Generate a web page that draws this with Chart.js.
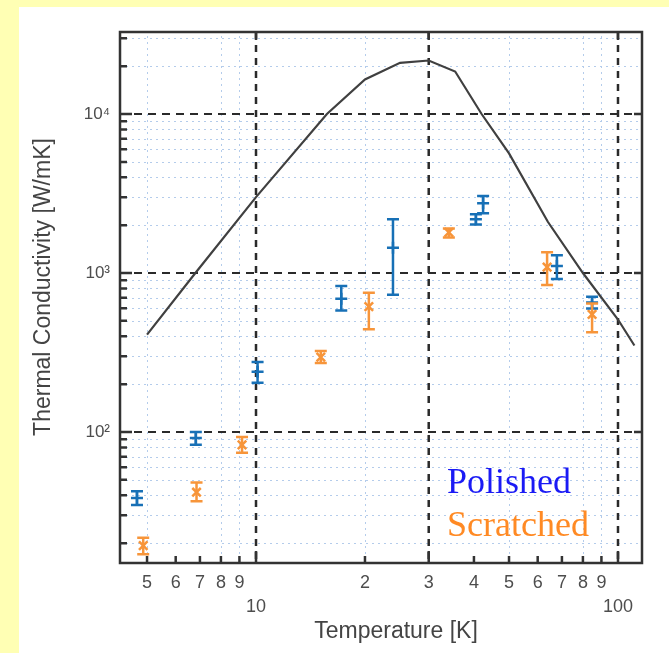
<!DOCTYPE html>
<html>
<head>
<meta charset="utf-8">
<title>Thermal conductivity vs temperature</title>
<script src="https://cdn.jsdelivr.net/npm/chart.js@4.4.0/dist/chart.umd.min.js"></script>
<style>
  html, body { margin: 0; padding: 0; }
  body { width: 669px; height: 653px; background: #ffffb4; position: relative; overflow: hidden; }
  #panel { position: absolute; left: 19px; top: 7px; right: 0; bottom: 0; background: #fff; }
  #chart { position: absolute; left: 0; top: 0; }
</style>
</head>
<body>
<div id="panel"></div>
<canvas id="chart" width="669" height="653"></canvas>
<script>
// ----- data -----
// theoretical curve
const curveT = [5.0, 6.8, 10, 15.7, 20, 25, 30, 35.5, 42, 50, 64, 80, 100, 111];
const curveK = [410, 1000, 3000, 10000, 16500, 21000, 21700, 18500, 10000, 5650, 2100, 1000, 510, 350];

// polished sample (value, lower, upper)
const polT  = [4.69, 6.82, 10.1, 17.2, 23.9, 40.5, 42.4, 67.8, 84.8];
const polK  = [38.4, 91.8, 239, 690, 1443, 2180, 2750, 1105, 652];
const polLo = [34.7, 83, 204, 581, 730, 2020, 2380, 918, 598];
const polHi = [42.4, 100, 276, 830, 2180, 2340, 3050, 1293, 710];

// scratched sample (value, lower, upper)
const scrT  = [4.88, 6.85, 9.15, 15.1, 20.5, 34.1, 63.7, 84.8];
const scrK  = [19.3, 41.8, 83, 296, 615, 1800, 1090, 549];
const scrLo = [17.0, 36.7, 74, 272, 443, 1670, 842, 424];
const scrHi = [21.6, 48.2, 93, 323, 752, 1905, 1350, 642];

// axes
const xTicks = [5, 6, 7, 8, 9, 10, 20, 30, 40, 50, 60, 70, 80, 90, 100];
const xTickLabels = ['5', '6', '7', '8', '9', ['', '10'], '2', '3', '4', '5', '6', '7', '8', '9', ['', '100']];
const yTicks = [100, 1000, 10000];
const yTickLabels = ['10\u00B2', '10\u00B3', '10\u2074'];
const xMajorGrid = [10, 30, 100];
const xMinorGrid = [5, 8, 9, 20, 50, 80, 90];
const yMajorGrid = [100, 1000, 10000];
const yMinorGrid = [20, 30, 40, 50, 60, 70, 80, 90, 200, 300, 400, 500, 600, 700, 800, 900,
                    2000, 3000, 4000, 5000, 6000, 7000, 8000, 9000, 20000, 30000];

const BLUE = '#1770b6';
const ORANGE = '#f7953a';
const SANS = '"Liberation Sans", Arial, "DejaVu Sans", sans-serif';

function toPoints(xs, ys) {
    return xs.map((x, i) => ({ x: x, y: ys[i] }));
}

function errorBars(chart, dsIndex, lo, hi, color) {
    const ctx = chart.ctx;
    const y = chart.scales.y;
    const meta = chart.getDatasetMeta(dsIndex);
    ctx.save();
    ctx.strokeStyle = color;
    ctx.lineWidth = 2.5;
    meta.data.forEach((pt, i) => {
        const y1 = y.getPixelForValue(lo[i]);
        const y2 = y.getPixelForValue(hi[i]);
        ctx.beginPath();
        ctx.moveTo(pt.x, y1); ctx.lineTo(pt.x, y2);
        ctx.moveTo(pt.x - 6, y1); ctx.lineTo(pt.x + 6, y1);
        ctx.moveTo(pt.x - 6, y2); ctx.lineTo(pt.x + 6, y2);
        ctx.stroke();
    });
    ctx.restore();
}

const decor = {
    id: 'decor',
    beforeDatasetsDraw(chart) {
        const { ctx, chartArea: a, scales: { x, y } } = chart;
        ctx.save();
        // dotted minor grid
        ctx.strokeStyle = '#b4cceb';
        ctx.lineWidth = 1;
        ctx.setLineDash([2, 4]);
        ctx.beginPath();
        yMinorGrid.forEach(v => { const p = Math.round(y.getPixelForValue(v)) + 0.5; ctx.moveTo(a.left + 6, p); ctx.lineTo(a.right - 4, p); });
        xMinorGrid.forEach(v => { const p = Math.round(x.getPixelForValue(v)) + 0.5; ctx.moveTo(p, a.top + 4); ctx.lineTo(p, a.bottom - 4); });
        ctx.stroke();
        // dashed major grid
        ctx.strokeStyle = '#2a2a2a';
        ctx.lineWidth = 2;
        ctx.setLineDash([8, 6]);
        ctx.beginPath();
        yMajorGrid.forEach(v => { const p = y.getPixelForValue(v); ctx.moveTo(a.left, p); ctx.lineTo(a.right, p); });
        ctx.stroke();
        ctx.setLineDash([7, 6]);
        ctx.lineWidth = 2.5;
        ctx.beginPath();
        xMajorGrid.forEach(v => { const p = x.getPixelForValue(v); ctx.moveTo(p, a.top); ctx.lineTo(p, a.bottom); });
        ctx.stroke();
        ctx.restore();
    },
    afterDatasetsDraw(chart) {
        errorBars(chart, 1, polLo, polHi, BLUE);
        errorBars(chart, 2, scrLo, scrHi, ORANGE);
    },
    afterDraw(chart) {
        const { ctx, chartArea: a, scales: { x, y } } = chart;
        ctx.save();
        // inward tick marks
        ctx.strokeStyle = '#333';
        ctx.lineWidth = 2.5;
        ctx.beginPath();
        yMinorGrid.forEach(v => { const p = y.getPixelForValue(v); ctx.moveTo(a.left, p); ctx.lineTo(a.left + 7, p); });
        yMajorGrid.forEach(v => {
            const p = y.getPixelForValue(v);
            ctx.moveTo(a.left, p); ctx.lineTo(a.left + 12, p);
            ctx.moveTo(a.right, p); ctx.lineTo(a.right - 8, p);
        });
        xTicks.forEach(v => {
            const p = x.getPixelForValue(v);
            const len = xMajorGrid.includes(v) ? 12 : 7;
            ctx.moveTo(p, a.bottom); ctx.lineTo(p, a.bottom - len);
        });
        xMajorGrid.forEach(v => { const p = x.getPixelForValue(v); ctx.moveTo(p, a.top); ctx.lineTo(p, a.top + 8); });
        ctx.stroke();
        // frame
        ctx.lineWidth = 2.5;
        ctx.strokeRect(a.left, a.top, a.right - a.left, a.bottom - a.top);
        // axis titles
        ctx.fillStyle = '#444';
        ctx.font = '23px ' + SANS;
        ctx.textAlign = 'center';
        ctx.textBaseline = 'middle';
        ctx.fillText('Temperature [K]', 396, 632);
        ctx.translate(44, 287);
        ctx.rotate(-Math.PI / 2);
        ctx.fillText('Thermal Conductivity [W/mK]', 0, 0);
        ctx.restore();
        // sample labels
        ctx.save();
        ctx.font = '36px "Liberation Serif", "Times New Roman", serif';
        ctx.textAlign = 'left';
        ctx.textBaseline = 'alphabetic';
        ctx.fillStyle = '#1a1af5';
        ctx.fillText('Polished', 447, 493);
        ctx.fillStyle = '#ff8a24';
        ctx.fillText('Scratched', 447, 536);
        ctx.restore();
    }
};

new Chart(document.getElementById('chart'), {
    type: 'scatter',
    data: {
        datasets: [
            {
                type: 'line',
                label: 'Theory',
                data: toPoints(curveT, curveK),
                borderColor: '#404040',
                borderWidth: 2.2,
                pointRadius: 0,
                tension: 0,
                fill: false
            },
            {
                label: 'Polished',
                data: toPoints(polT, polK),
                pointStyle: 'cross',
                pointRadius: 6,
                borderColor: BLUE,
                backgroundColor: BLUE,
                pointBorderWidth: 2.5
            },
            {
                label: 'Scratched',
                data: toPoints(scrT, scrK),
                pointStyle: 'crossRot',
                pointRadius: 6,
                borderColor: ORANGE,
                backgroundColor: ORANGE,
                pointBorderWidth: 2.5
            }
        ]
    },
    options: {
        responsive: false,
        animation: false,
        devicePixelRatio: 1,
        layout: { padding: { top: 32, right: 27, left: 0, bottom: 0 } },
        plugins: { legend: { display: false }, tooltip: { enabled: false } },
        scales: {
            x: {
                type: 'logarithmic',
                min: 4.21,
                max: 116.5,
                afterBuildTicks: s => { s.ticks = xTicks.map(v => ({ value: v })); },
                afterFit: s => { s.height = 90; },
                grid: { display: false, drawTicks: false },
                border: { display: false },
                ticks: {
                    autoSkip: false,
                    maxRotation: 0,
                    padding: 8,
                    color: '#4d4d4d',
                    font: { family: SANS, size: 18, lineHeight: 1.33 },
                    callback: (v, i) => xTickLabels[i]
                }
            },
            y: {
                type: 'logarithmic',
                min: 15,
                max: 32800,
                afterBuildTicks: s => { s.ticks = yTicks.map(v => ({ value: v })); },
                afterFit: s => { s.width = 120; },
                grid: { display: false, drawTicks: false },
                border: { display: false },
                ticks: {
                    autoSkip: false,
                    padding: 10,
                    color: '#4d4d4d',
                    font: { family: SANS, size: 17 },
                    callback: (v, i) => yTickLabels[i]
                }
            }
        }
    },
    plugins: [decor]
});
</script>
</body>
</html>
